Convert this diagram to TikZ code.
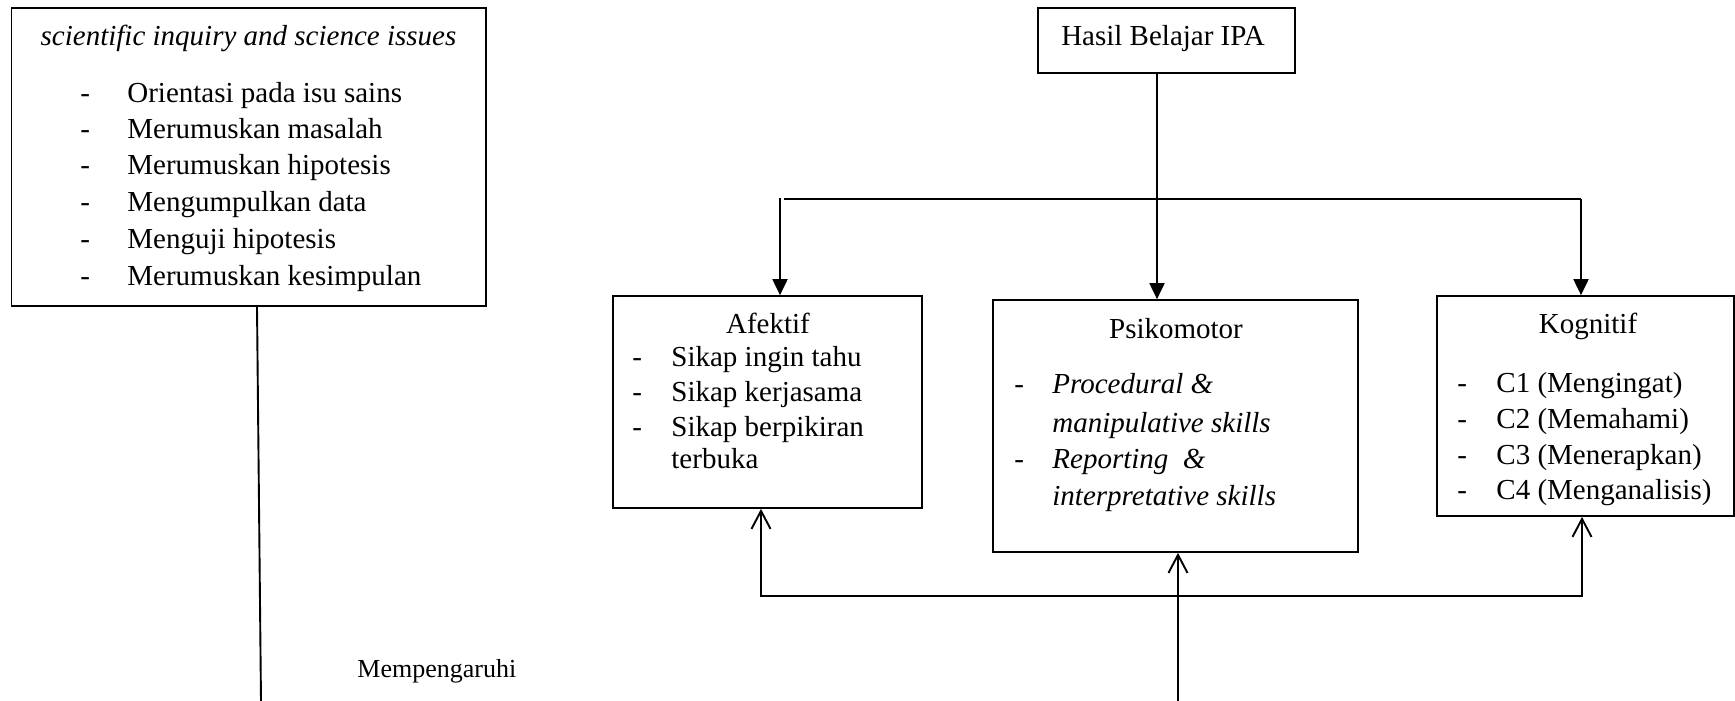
\documentclass[tikz,border=0pt]{standalone}
\usepackage{fontspec}
\setmainfont{Liberation Serif}
\usetikzlibrary{arrows.meta}
\begin{document}
\begin{tikzpicture}[x=0.5pt,y=-0.5pt,
  box/.style={draw, line width=0.85pt, inner sep=0pt},
  txt/.style={inner sep=0pt, anchor=base west, font=\fontsize{14.5}{17}\selectfont},
  ttl/.style={inner sep=0pt, anchor=base, font=\fontsize{14.5}{17}\selectfont},
  conn/.style={line width=0.95pt},
  down/.style={conn, -{Triangle[width=7.5pt,length=8pt]}},
  up/.style={conn, -{Straight Barb[width=9.5pt,length=9pt]}},
]
\useasboundingbox (0,0) rectangle (1735,701);

% boxes
\node[box, minimum width=237.25pt, minimum height=149pt] (sci) at (248.75,157) {};
\node[box, minimum width=128.5pt, minimum height=32.5pt] (hasil) at (1166.5,40.5) {};
\node[box, minimum width=154.5pt, minimum height=106pt] (afe) at (767.5,402) {};
\node[box, minimum width=182.5pt, minimum height=126pt] (psi) at (1175.5,426) {};
\node[box, minimum width=148.5pt, minimum height=110pt] (kog) at (1585.5,406) {};

% left box text
\node[ttl] (scit) at (248.5,46) {\itshape scientific inquiry and science issues};
\foreach \y/\t [count=\i] in {103/Orientasi pada isu sains, 139/Merumuskan masalah, 175/Merumuskan hipotesis, 212/Mengumpulkan data, 249/Menguji hipotesis, 285/Merumuskan kesimpulan}{
  \node[txt] (scid\i) at (80,\y) {-};
  \node[txt] (scii\i) at (127,\y) {\t};
}

% Hasil
\node[ttl] (hasilt) at (1163,46) {Hasil Belajar IPA};

% Afektif
\node[ttl] (afet) at (768,333) {Afektif};
\foreach \y/\t [count=\i] in {366/Sikap ingin tahu, 401/Sikap kerjasama, 436/Sikap berpikiran}{
  \node[txt] (afed\i) at (632,\y) {-};
  \node[txt] (afei\i) at (671,\y) {\t};
}
\node[txt] (afei4) at (671,468) {terbuka};

% Psikomotor
\node[ttl] (psit) at (1176,338) {Psikomotor};
\node[txt] (psid1) at (1014,393) {-};
\node[txt] (psii1) at (1052,393) {\itshape Procedural \&};
\node[txt] (psii2) at (1052,432) {\itshape manipulative skills};
\node[txt] (psid2) at (1014,468) {-};
\node[txt] (psii3) at (1052,468) {\itshape Reporting~~\&};
\node[txt] (psii4) at (1052,505) {\itshape interpretative skills};

% Kognitif
\node[ttl] (kogt) at (1588,333) {Kognitif};
\foreach \y/\t [count=\i] in {392/C1 (Mengingat), 428/C2 (Memahami), 464/C3 (Menerapkan), 499/C4 (Menganalisis)}{
  \node[txt] (kogd\i) at (1457,\y) {-};
  \node[txt] (kogi\i) at (1496,\y) {\t};
}

% Mempengaruhi
\node[inner sep=0pt, anchor=base west, font=\fontsize{13}{15}\selectfont] (mem) at (357,677) {Mempengaruhi};

% coordinates
\coordinate (xm) at (1157,0);
\coordinate (xa) at (780,0);
\coordinate (xk) at (1581,0);
\coordinate (hl) at (784,199);
\coordinate (hr) at (1581,199);
\coordinate (va) at (780,198);
\coordinate (ba) at (761,596);
\coordinate (bk) at (1582,596);
\coordinate (bm) at (1178,701);
\coordinate (xpb) at (1178,0);
\coordinate (xab) at (761,0);
\coordinate (xkb) at (1582,0);
\coordinate (xs) at (257,0);
\coordinate (ls) at (261,701);

% top connectors
\draw[down] (hasil.south -| xm) -- (psi.north -| xm);
\draw[conn] (hl) -- (hr);
\draw[down] (hr) -- (kog.north -| xk);
\draw[down] (va) -- (afe.north -| xa);

% bottom connectors
\draw[up] (bk) -- (ba) -- (afe.south -| xab);
\draw[up] (ba) -- (bk) -- (kog.south -| xkb);
\draw[up] (bm) -- (psi.south -| xpb);

% left line
\draw[conn] (sci.south -| xs) -- (ls);
\end{tikzpicture}
\end{document}
